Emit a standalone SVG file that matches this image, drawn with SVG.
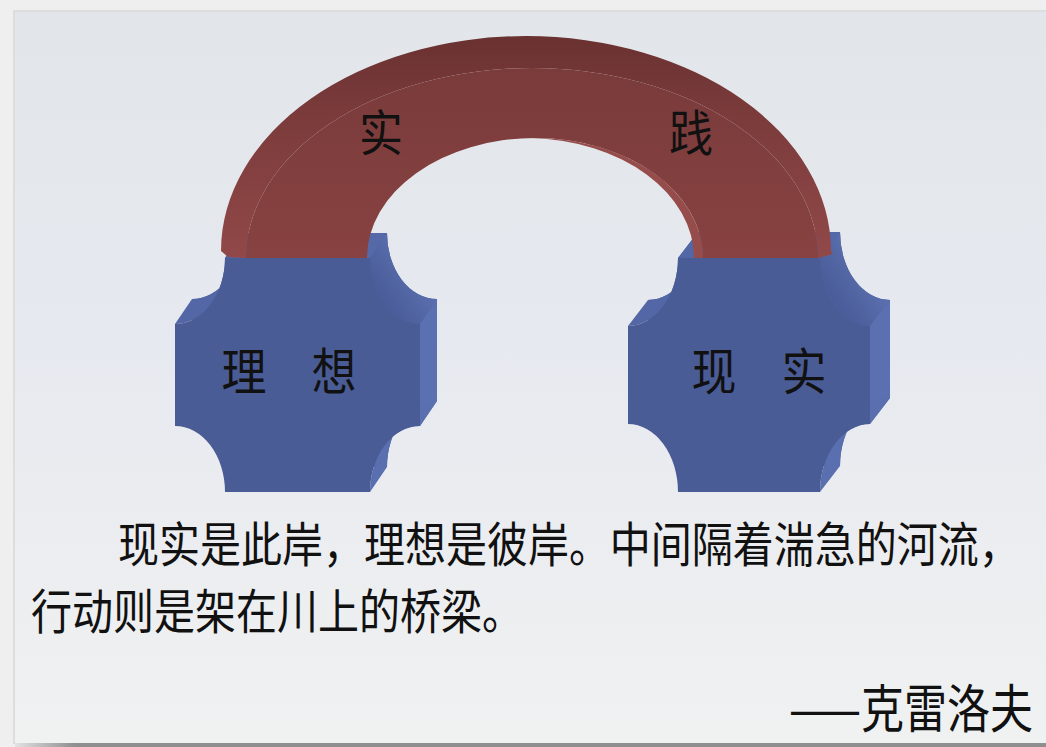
<svg xmlns="http://www.w3.org/2000/svg" width="1046" height="747" viewBox="0 0 1046 747">
<defs>
<linearGradient id="panel" x1="0" y1="12" x2="0" y2="743" gradientUnits="userSpaceOnUse">
<stop offset="0" stop-color="#e2e6ea"/><stop offset="0.45" stop-color="#e6e9ef"/><stop offset="1" stop-color="#f0f1f1"/>
</linearGradient>
<linearGradient id="bottombar" x1="15" y1="0" x2="75" y2="0" gradientUnits="userSpaceOnUse">
<stop offset="0" stop-color="#e2e2e2"/><stop offset="1" stop-color="#8f8f8f"/>
</linearGradient>
<linearGradient id="band" x1="0" y1="37" x2="0" y2="258" gradientUnits="userSpaceOnUse">
<stop offset="0" stop-color="#6a3131"/><stop offset="0.35" stop-color="#7b3b3b"/><stop offset="1" stop-color="#914848"/>
</linearGradient>
<linearGradient id="archface" x1="0" y1="68" x2="0" y2="258" gradientUnits="userSpaceOnUse">
<stop offset="0" stop-color="#7a3b3b"/><stop offset="1" stop-color="#874241"/>
</linearGradient>
<linearGradient id="concL" x1="380" y1="290" x2="425" y2="260" gradientUnits="userSpaceOnUse">
<stop offset="0" stop-color="#4b5e9b"/><stop offset="1" stop-color="#6073b3"/>
</linearGradient>
<linearGradient id="concR" x1="832" y1="292" x2="878" y2="262" gradientUnits="userSpaceOnUse">
<stop offset="0" stop-color="#4b5e9b"/><stop offset="1" stop-color="#6073b3"/>
</linearGradient>
</defs>
<style>
.base{fill:#5064a2}
.front{fill:#4a5c96}
.topf{fill:#5568a8}
.rside{fill:#5b70b0}
.br{fill:#5a6fb0}
.tl{fill:#5367a6}
.lbl{font-family:"Noto Sans CJK SC","Noto Sans",sans-serif;fill:#111;}
.txt{font-family:"Noto Sans CJK SC","Noto Sans",sans-serif;fill:#111;font-size:41px;}
</style>

<g id="background">
<rect x="0" y="0" width="1046" height="747" fill="#efefef"/>
<rect x="13" y="10" width="1033" height="734" fill="#dddddd"/>
<rect x="15" y="12" width="1031" height="731" fill="url(#panel)"/>
<rect x="15" y="743" width="1031" height="4" fill="url(#bottombar)"/>
</g>

<g id="connectors"></g>

<g id="block-ideal">
<path class="base" d="M242,233 H387 A50 66 0 0 0 437,299 V401 A50 66 0 0 0 387,467 H242 A50 66 0 0 0 192,401 V299 A50 66 0 0 0 242,233 Z"/>
<path class="topf" d="M225,258 H370 L387,233 H242 Z"/>
<path fill="url(#concL)" d="M370,258 A50 66 0 0 0 420,324 L437,299 A50 66 0 0 1 387,233 Z"/>
<path class="rside" d="M420,324 L437,299 V401 L420,426 Z"/>
<path class="br" d="M420,426 A50 66 0 0 0 370,492 L387,467 A50 66 0 0 1 437,401 Z"/>
<path class="tl" d="M175,324 A50 66 0 0 0 225,258 L242,233 A50 66 0 0 1 192,299 Z"/>
<path class="front" d="M225,258 H370 A50 66 0 0 0 420,324 V426 A50 66 0 0 0 370,492 H225 A50 66 0 0 0 175,426 V324 A50 66 0 0 0 225,258 Z"/>
<text class="lbl" font-size="45" text-anchor="middle" transform="translate(289,390) scale(1,1.12)">理　想</text>
</g>

<g id="block-reality">
<path class="base" d="M698,232 H840 A50 68 0 0 0 890,300 V398 A50 68 0 0 0 840,466 H698 A50 68 0 0 0 648,398 V300 A50 68 0 0 0 698,232 Z"/>
<path class="topf" d="M678,258 H820 L840,232 H698 Z"/>
<path fill="url(#concR)" d="M820,258 A50 68 0 0 0 870,326 L890,300 A50 68 0 0 1 840,232 Z"/>
<path class="rside" d="M870,326 L890,300 V398 L870,424 Z"/>
<path class="br" d="M870,424 A50 68 0 0 0 820,492 L840,466 A50 68 0 0 1 890,398 Z"/>
<path class="tl" d="M628,326 A50 68 0 0 0 678,258 L698,232 A50 68 0 0 1 648,300 Z"/>
<path class="front" d="M678,258 H820 A50 68 0 0 0 870,326 V424 A50 68 0 0 0 820,492 H678 A50 68 0 0 0 628,424 V326 A50 68 0 0 0 678,258 Z"/>
<text class="lbl" font-size="45" text-anchor="middle" transform="translate(759,390) scale(1,1.12)">现　实</text>
</g>

<g id="arch-practice">
<path fill="url(#band)" d="M221,251 A305 215 0 0 1 831,251 L833,254 L818,258 A286 190 0 0 0 246,258 L228,257 Z"/>
<path fill="url(#archface)" d="M246,258 A286 190 0 0 1 818,258 L703,258 A168 120 0 0 0 367,258 Z"/>
<path fill="#954c4a" d="M531,138 A168 120 0 0 1 703,258 L694,258 A168 120 0 0 0 531,138 Z"/>
<text class="lbl" font-size="44" text-anchor="middle" transform="translate(381,151) scale(1,1.12)">实</text>
<text class="lbl" font-size="44" text-anchor="middle" transform="translate(691,151) scale(1,1.12)">践</text>
</g>

<g id="quote">
<text class="txt" transform="translate(118,562) scale(1,1.17)">现实是此岸，理想是彼岸。中间隔着湍急的河流，</text>
<text class="txt" transform="translate(31,629) scale(1,1.17)">行动则是架在川上的桥梁。</text>
</g>

<g id="author">
<text class="lbl" font-size="43" transform="translate(789,728) scale(1,1.22)">——克雷洛夫</text>
</g>
</svg>
